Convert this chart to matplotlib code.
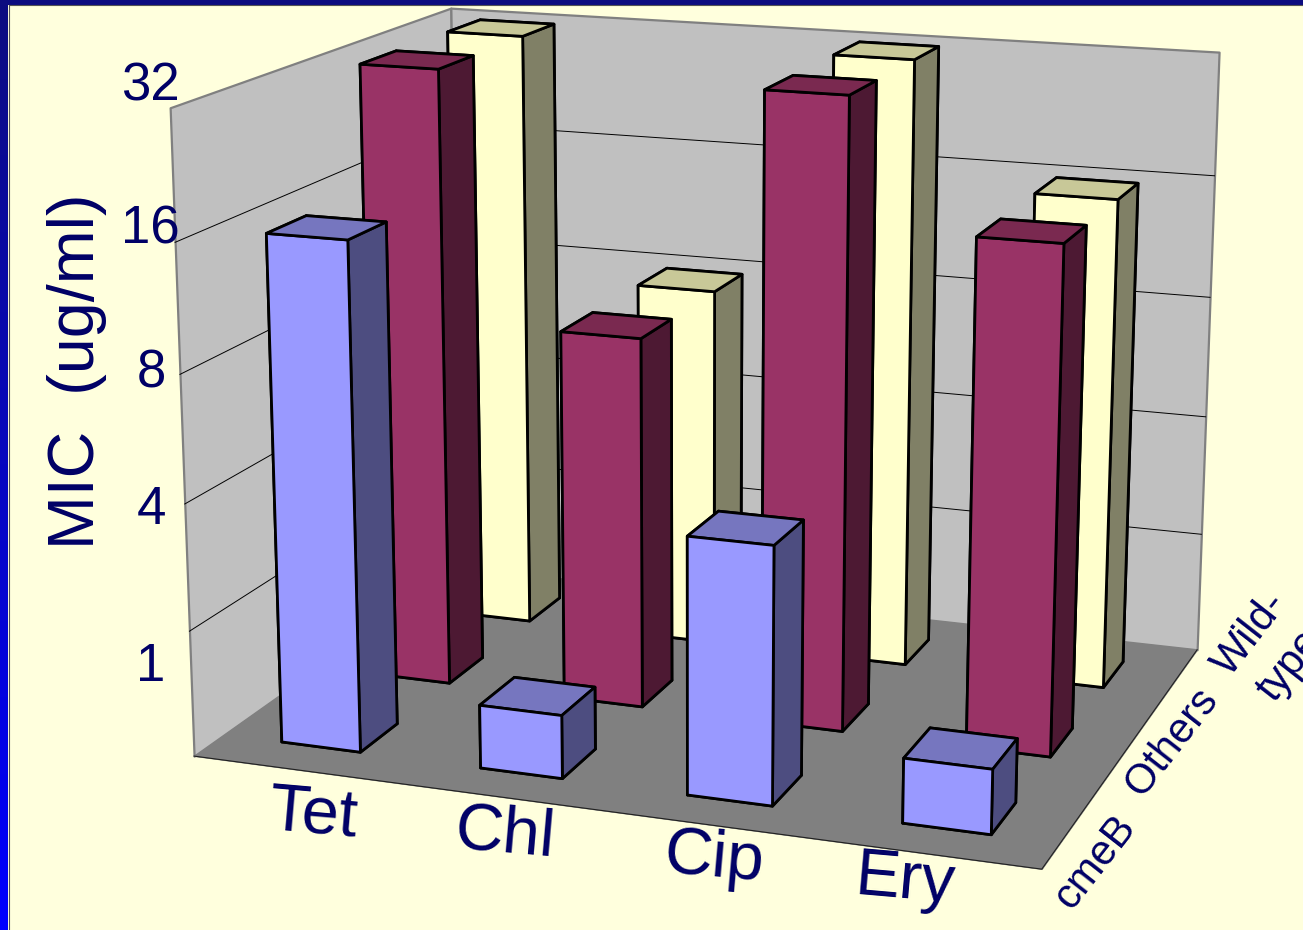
import numpy as np
import matplotlib
matplotlib.use("Agg")
import matplotlib.pyplot as plt
from matplotlib.colors import LinearSegmentedColormap
from matplotlib.patches import Rectangle
from mpl_toolkits.mplot3d import Axes3D
from mpl_toolkits.mplot3d.art3d import Poly3DCollection

W, H = 1303, 930

categories = ["Tet", "Chl", "Cip", "Ery"]
series = ["cmeB", "Others", "Wild-\ntype"]
tick_labels = ["1", "4", "8", "16", "32"]
tick_levels = [1, 2, 3, 4, 5]
cmeb_levels = [4, 0.5, 2, 0.5]
others_levels = [5, 3, 5, 4]
wild_levels = [5, 3, 5, 4]
levels = [cmeb_levels, others_levels, wild_levels]

NAVY = "#000066"
FRONT = ["#9999FF", "#993366", "#FFFFCC"]
SIDE = ["#4D4D80", "#4D1933", "#808066"]
TOP = ["#7676BF", "#7A2950", "#C8C898"]

plt.rcParams["font.family"] = ["Liberation Sans", "DejaVu Sans"]

# Oblique camera defined by where the corners of the chart box land on the canvas.
box_world = [(0, 0, 0), (4, 0, 0), (4, 3, 0), (0, 0, 5), (0, 3, 5), (4, 3, 5)]
box_pixel = [(194, 756), (1042, 869), (1197, 650), (170, 108), (451, 8), (1219, 52)]


def fit_camera(world, pixel):
    A, b = [], []
    for (x, y, z), (u, v) in zip(world, pixel):
        A.append([x, y, z, 1, 0, 0, 0, 0, -u * x, -u * y, -u * z])
        b.append(u)
        A.append([0, 0, 0, 0, x, y, z, 1, -v * x, -v * y, -v * z])
        b.append(v)
    p = np.linalg.lstsq(np.array(A, float), np.array(b, float), rcond=None)[0]
    return np.append(p, 1.0).reshape(3, 4)


P = fit_camera(box_world, box_pixel)

fig = plt.figure(figsize=(W / 100, H / 100), dpi=100, facecolor="#FFFFDD")
ax = fig.add_axes([0, 0, 1, 1], projection="3d")
ax.patch.set_visible(False)
ax.set_axis_off()
ax.computed_zorder = False
ax.apply_aspect = lambda position=None: None


def camera_matrix():
    vx0, vx1 = ax.viewLim.intervalx
    vy0, vy1 = ax.viewLim.intervaly
    sx = (vx1 - vx0) / W
    sy = (vy1 - vy0) / H
    return np.array([vx0 * P[2] + sx * P[0],
                     (vy0 + H * sy) * P[2] - sy * P[1],
                     [0, 0, 0, -1],
                     P[2]])


ax.get_proj = camera_matrix


def panel(corners, face, edge, lw):
    ax.add_collection3d(Poly3DCollection([corners], facecolors=face, edgecolors=edge,
                                         linewidths=lw, zorder=1))


# Walls and floor
panel([(0, 0, 0), (0, 3, 0), (0, 3, 5), (0, 0, 5)], "#C0C0C0", "#808080", 1.6)
panel([(0, 3, 0), (4, 3, 0), (4, 3, 5), (0, 3, 5)], "#C0C0C0", "#808080", 1.6)
panel([(0, 0, 0), (4, 0, 0), (4, 3, 0), (0, 3, 0)], "#808080", "#808080", 0.5)
ax.plot([0, 4, 4], [0, 0, 3], [0, 0, 0], color="#202020", lw=0.8, zorder=2)
for lev in tick_levels[:-1]:
    ax.plot([0, 0, 4], [0, 3, 3], [lev, lev, lev], color="k", lw=0.7, zorder=2)

# Bars, back row first
bar_start, bar_w = 0.295, 0.40
row_start, bar_d = 0.30, 0.40
order = 5
for j in [2, 1, 0]:
    for i in range(len(categories)):
        ax.bar3d(i + bar_start, j + row_start, 0, bar_w, bar_d, levels[j][i],
                 color=[FRONT[j], TOP[j], FRONT[j], FRONT[j], SIDE[j], SIDE[j]],
                 shade=False, edgecolor="k", linewidth=2.0, zorder=order)
        order += 1


def label(x, y, s, size, rot=0, **kw):
    fig.text(x / W, 1 - y / H, s, fontsize=size, rotation=rot, color=NAVY,
             ha="center", va="center", rotation_mode="anchor", **kw)


# Value labels, axis title, category and series names
for s, (x, y) in zip(tick_labels, [(151, 667), (151, 510), (151, 373), (150, 229), (150, 86)]):
    label(x, y, s, 38)
label(77, 371, "MIC  (ug/ml)", 46.5, 90)
for s, (x, y) in zip(categories, [(313, 815), (505, 835), (714, 859), (905, 881)]):
    label(x, y, s, 48, -5)
for s, (x, y) in zip(series[:2], [(1095, 862), (1172, 742)]):
    label(x, y, s, 30, 52)
label(1270, 650, series[2], 30, 52, linespacing=1.35)

# Slide frame: gradient strip at the left and a dark strip along the top
cmap = LinearSegmentedColormap.from_list("frame", ["#0C0C80", "#0000FF"])
strip = fig.add_axes([0, 0, 8 / W, 1])
strip.imshow(np.linspace(0, 1, 256)[:, None], aspect="auto", cmap=cmap)
strip.set_axis_off()
fig.add_artist(Rectangle((0, 1 - 5 / H), 1, 5 / H, transform=fig.transFigure,
                         facecolor="#0C0C80", edgecolor="none"))
fig.add_artist(plt.Line2D([8.5 / W, 8.5 / W], [0, 1 - 5 / H], color="#555555", lw=0.8))
fig.add_artist(plt.Line2D([8.5 / W, 1], [1 - 5.5 / H, 1 - 5.5 / H], color="#555555", lw=0.8))

fig.savefig("out.png", dpi=100, facecolor=fig.get_facecolor())
